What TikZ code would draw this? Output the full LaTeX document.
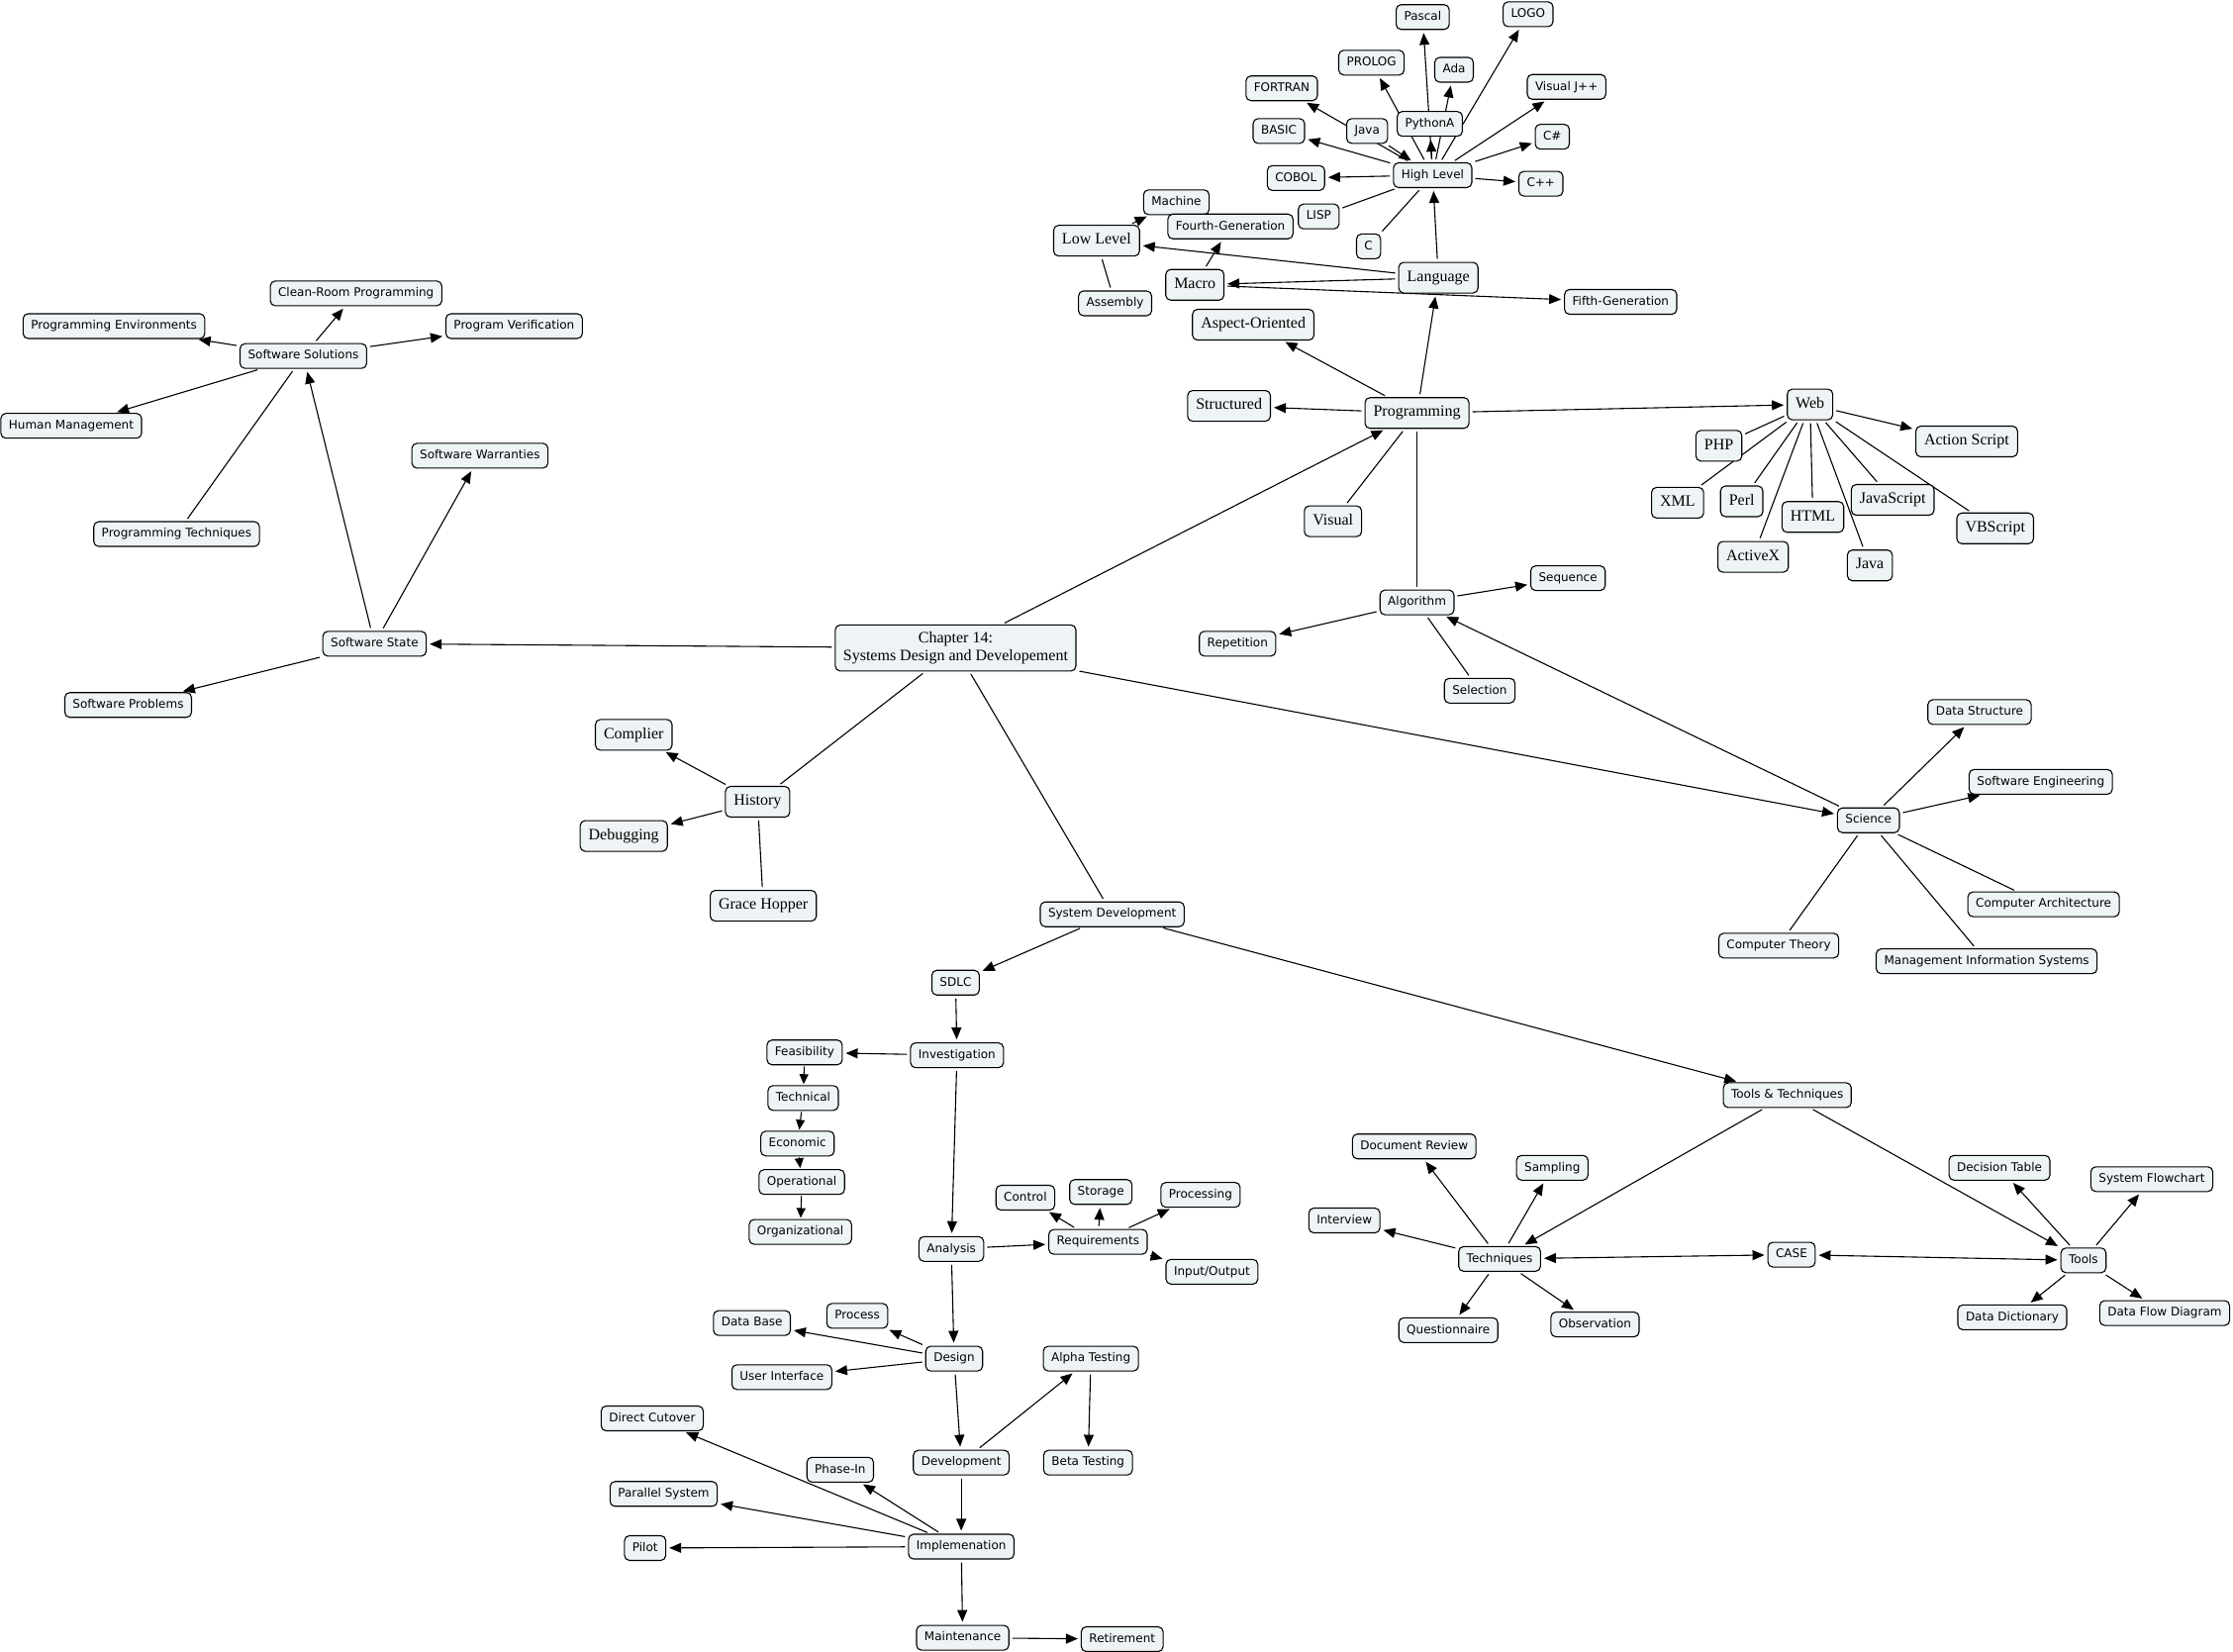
\documentclass[tikz,border=0pt]{standalone}
\usepackage{fontspec}
\setmainfont{Liberation Serif}
\setsansfont{DejaVu Sans}
\usetikzlibrary{arrows.meta,backgrounds}
\definecolor{nodefill}{RGB}{238,243,245}
\tikzset{
  cbox/.style={draw, line width=1.1pt, rounded corners=5pt, fill=nodefill, text=black},
  sbox/.style={cbox, font=\sffamily\fontsize{12}{14}\selectfont, inner xsep=8pt, inner ysep=0pt,
               minimum height=25pt, text height=9pt, text depth=2.5pt},
  rbox/.style={cbox, font=\rmfamily\fontsize{16}{18}\selectfont, inner xsep=8.5pt, inner ysep=0pt,
               minimum height=31pt, text height=11pt, text depth=3.5pt},
  lnk/.style={line width=1.1pt, shorten <=3pt, shorten >=3pt},
  arr/.style={lnk, -{Triangle[length=12pt,width=10pt]}},
  arrs/.style={line width=1.1pt, shorten <=1pt, shorten >=1pt, -{Triangle[length=10pt,width=9pt]}},
  dar/.style={lnk, {Triangle[length=12pt,width=10pt]}-{Triangle[length=12pt,width=10pt]}},
}
\begin{document}
\begin{tikzpicture}[x=1.4388pt,y=-1.4388pt]
\useasboundingbox (0,-1) rectangle (1568,1159);

% ---------- top: languages ----------
\node[sbox] (pascal) at (999,11) {Pascal};
\node[sbox] (logo) at (1073,9) {LOGO};
\node[sbox] (prolog) at (963,43) {PROLOG};
\node[sbox] (ada) at (1021,48) {Ada};
\node[sbox] (fortran) at (900,61) {FORTRAN};
\node[sbox] (vjpp) at (1100,60) {Visual J++};
\node[sbox] (javah) at (960,91) {Java};
\node[sbox] (python) at (1004,86) {PythonA};
\node[sbox] (basic) at (898,91) {BASIC};
\node[sbox] (csharp) at (1090,95) {C\#};
\node[sbox] (cobol) at (910,124) {COBOL};
\node[sbox] (high) at (1006,122) {High Level};
\node[sbox] (cpp) at (1082,128) {C++};
\node[sbox] (lisp) at (926,151) {LISP};
\node[sbox] (clang) at (961,172) {C};
\node[sbox] (machine) at (826,141) {Machine};
\node[sbox] (fourth) at (864,158) {Fourth-Generation};
\node[rbox] (low) at (770,168) {Low Level};
\node[rbox] (lang) at (1010,194) {Language};
\node[rbox] (macro) at (839,199) {Macro};
\node[sbox] (assembly) at (783,212) {Assembly};
\node[sbox] (fifth) at (1138,211) {Fifth-Generation};
\node[rbox] (aspect) at (880,227) {Aspect-Oriented};
\node[rbox] (struct) at (863,284) {Structured};
\node[rbox] (prog) at (995,289) {Programming};
\node[rbox] (visual) at (936,365) {Visual};

% ---------- web ----------
\node[rbox] (web) at (1271,283) {Web};
\node[rbox] (ascript) at (1381,309) {Action Script};
\node[rbox] (php) at (1207,312) {PHP};
\node[rbox] (xml) at (1178,352) {XML};
\node[rbox] (perl) at (1223,351) {Perl};
\node[rbox] (html) at (1273,362) {HTML};
\node[rbox] (jscript) at (1329,350) {JavaScript};
\node[rbox] (vbs) at (1401,370) {VBScript};
\node[rbox] (activex) at (1231,390) {ActiveX};
\node[rbox] (javaw) at (1313,396) {Java};

% ---------- algorithm ----------
\node[sbox] (algo) at (995,422) {Algorithm};
\node[sbox] (seq) at (1101,405) {Sequence};
\node[sbox] (rep) at (869,451) {Repetition};
\node[sbox] (sel) at (1039,484) {Selection};

% ---------- left ----------
\node[sbox] (clean) at (250,205) {Clean-Room Programming};
\node[sbox] (penv) at (80,228) {Programming Environments};
\node[sbox] (ssol) at (213,249) {Software Solutions};
\node[sbox] (pver) at (361,228) {Program Verification};
\node[sbox] (human) at (50,298) {Human Management};
\node[sbox] (swarr) at (337,319) {Software Warranties};
\node[sbox] (ptech) at (124,374) {Programming Techniques};
\node[sbox] (sstate) at (263,451) {Software State};
\node[sbox] (sprob) at (90,494) {Software Problems};

% ---------- centre ----------
\node[cbox, font=\rmfamily\fontsize{16}{18}\selectfont, align=center, inner xsep=8pt, inner ysep=7pt]
  (chap) at (671,454) {Chapter 14:\\Systems Design and Developement};

\node[rbox] (complier) at (445,515) {Complier};
\node[rbox] (hist) at (532,562) {History};
\node[rbox] (debug) at (438,586) {Debugging};
\node[rbox] (grace) at (536,635) {Grace Hopper};

% ---------- science ----------
\node[sbox] (dstruct) at (1390,499) {Data Structure};
\node[sbox] (seng) at (1433,548) {Software Engineering};
\node[sbox] (sci) at (1312,575) {Science};
\node[sbox] (carch) at (1435,634) {Computer Architecture};
\node[sbox] (ctheory) at (1249,663) {Computer Theory};
\node[sbox] (mis) at (1395,674) {Management Information Systems};

% ---------- system development ----------
\node[sbox] (sysdev) at (781,641) {System Development};
\node[sbox] (sdlc) at (671,689) {SDLC};
\node[sbox] (invest) at (672,740) {Investigation};
\node[sbox] (feas) at (565,738) {Feasibility};
\node[sbox] (tech) at (564,770) {Technical};
\node[sbox] (econ) at (560,802) {Economic};
\node[sbox] (oper) at (563,829) {Operational};
\node[sbox] (org) at (562,864) {Organizational};
\node[sbox] (control) at (720,840) {Control};
\node[sbox] (storage) at (773,836) {Storage};
\node[sbox] (processing) at (843,838) {Processing};
\node[sbox] (analysis) at (668,876) {Analysis};
\node[sbox] (req) at (771,871) {Requirements};
\node[sbox] (io) at (851,892) {Input/Output};
\node[sbox] (process) at (602,923) {Process};
\node[sbox] (dbase) at (528,928) {Data Base};
\node[sbox] (design) at (670,953) {Design};
\node[sbox] (alpha) at (766,953) {Alpha Testing};
\node[sbox] (ui) at (549,966) {User Interface};
\node[sbox] (direct) at (458,995) {Direct Cutover};
\node[sbox] (devel) at (675,1026) {Development};
\node[sbox] (beta) at (764,1026) {Beta Testing};
\node[sbox] (phase) at (590,1031) {Phase-In};
\node[sbox] (parallel) at (466,1048) {Parallel System};
\node[sbox] (pilot) at (453,1086) {Pilot};
\node[sbox] (impl) at (675,1085) {Implemenation};
\node[sbox] (maint) at (676,1149) {Maintenance};
\node[sbox] (retire) at (788,1150) {Retirement};

% ---------- tools & techniques ----------
\node[sbox] (tt) at (1255,768) {Tools \& Techniques};
\node[sbox] (docrev) at (993,804) {Document Review};
\node[sbox] (sampling) at (1090,819) {Sampling};
\node[sbox] (interview) at (944,856) {Interview};
\node[sbox] (techn) at (1053,883) {Techniques};
\node[sbox] (case) at (1258,880) {CASE};
\node[sbox] (quest) at (1017,933) {Questionnaire};
\node[sbox] (obs) at (1120,929) {Observation};
\node[sbox] (dtable) at (1404,819) {Decision Table};
\node[sbox] (sflow) at (1511,827) {System Flowchart};
\node[sbox] (tools) at (1463,884) {Tools};
\node[sbox] (ddict) at (1413,924) {Data Dictionary};
\node[sbox] (dfd) at (1520,921) {Data Flow Diagram};

\begin{scope}[on background layer]
% centre
\draw[arr] (chap) -- (prog);
\draw[arr] (chap) -- (sstate);
\draw[lnk] (chap) -- (hist);
\draw[lnk] (chap) -- (sysdev);
\draw[arr] (chap) -- (sci);
% software state
\draw[arr] (sstate) -- (ssol);
\draw[arr] (sstate) -- (swarr);
\draw[arr] (sstate) -- (sprob);
\draw[arr] (ssol) -- (clean);
\draw[arr] (ssol) -- (penv);
\draw[arr] (ssol) -- (pver);
\draw[arr] (ssol) -- (human);
\draw[lnk] (ssol) -- (ptech);
% programming
\draw[arr] (prog) -- (struct);
\draw[arr] (prog) -- (aspect);
\draw[arr] (prog) -- (lang);
\draw[arr] (prog) -- (web);
\draw[lnk] (prog) -- (visual);
\draw[lnk] (prog) -- (algo);
% language
\draw[arr] (lang) -- (high);
\draw[arr] (lang) -- (low);
\draw[arr] (lang) -- (macro);
\draw[arr] (macro) -- (fifth);
\draw[arr] (low) -- (machine);
\draw[lnk] (low) -- (assembly);
\draw[arr] (macro) -- (fourth);
% high level
\draw[arr] (high) -- (pascal);
\draw[arr] (high) -- (logo);
\draw[arr] (high) -- (prolog);
\draw[arr] (high) -- (ada);
\draw[arr] (high) -- (fortran);
\draw[arr] (high) -- (python);
\draw[arr] (javah) -- (high);
\draw[arr] (high) -- (basic);
\draw[arr] (high) -- (cobol);
\draw[arr] (high) -- (vjpp);
\draw[arr] (high) -- (csharp);
\draw[arr] (high) -- (cpp);
\draw[lnk] (high) -- (lisp);
\draw[lnk] (high) -- (clang);
% web
\draw[arr] (web) -- (ascript);
\foreach \t in {php,xml,perl,html,jscript,vbs,activex,javaw} \draw[lnk] (web) -- (\t);
% algorithm
\draw[arr] (algo) -- (seq);
\draw[arr] (algo) -- (rep);
\draw[lnk] (algo) -- (sel);
\draw[arr] (sci) -- (algo);
% science
\draw[arr] (sci) -- (dstruct);
\draw[arr] (sci) -- (seng);
\draw[lnk] (sci) -- (carch);
\draw[lnk] (sci) -- (ctheory);
\draw[lnk] (sci) -- (mis);
% history
\draw[arr] (hist) -- (complier);
\draw[arr] (hist) -- (debug);
\draw[lnk] (hist) -- (grace);
% system development
\draw[arr] (sysdev) -- (sdlc);
\draw[arr] (sysdev) -- (tt);
\draw[arr] (sdlc) -- (invest);
\draw[arr] (invest) -- (feas);
\draw[arr] (invest) -- (analysis);
\draw[arrs] (feas) -- (tech);
\draw[arrs] (tech) -- (econ);
\draw[arrs] (econ) -- (oper);
\draw[arrs] (oper) -- (org);
\draw[arr] (analysis) -- (req);
\draw[arr] (analysis) -- (design);
\draw[arr] (req) -- (control);
\draw[arr] (req) -- (storage);
\draw[arr] (req) -- (processing);
\draw[arr] (req) -- (io);
\draw[arr] (design) -- (process);
\draw[arr] (design) -- (dbase);
\draw[arr] (design) -- (ui);
\draw[arr] (design) -- (devel);
\draw[arr] (devel) -- (alpha);
\draw[arr] (alpha) -- (beta);
\draw[arr] (devel) -- (impl);
\draw[arr] (impl) -- (direct);
\draw[arr] (impl) -- (phase);
\draw[arr] (impl) -- (parallel);
\draw[arr] (impl) -- (pilot);
\draw[arr] (impl) -- (maint);
\draw[arr] (maint) -- (retire);
% tools & techniques
\draw[arr] (tt) -- (techn);
\draw[arr] (tt) -- (tools);
\draw[dar] (techn) -- (case);
\draw[dar] (case) -- (tools);
\draw[arr] (techn) -- (docrev);
\draw[arr] (techn) -- (sampling);
\draw[arr] (techn) -- (interview);
\draw[arr] (techn) -- (quest);
\draw[arr] (techn) -- (obs);
\draw[arr] (tools) -- (dtable);
\draw[arr] (tools) -- (sflow);
\draw[arr] (tools) -- (ddict);
\draw[arr] (tools) -- (dfd);
\end{scope}
\end{tikzpicture}
\end{document}
